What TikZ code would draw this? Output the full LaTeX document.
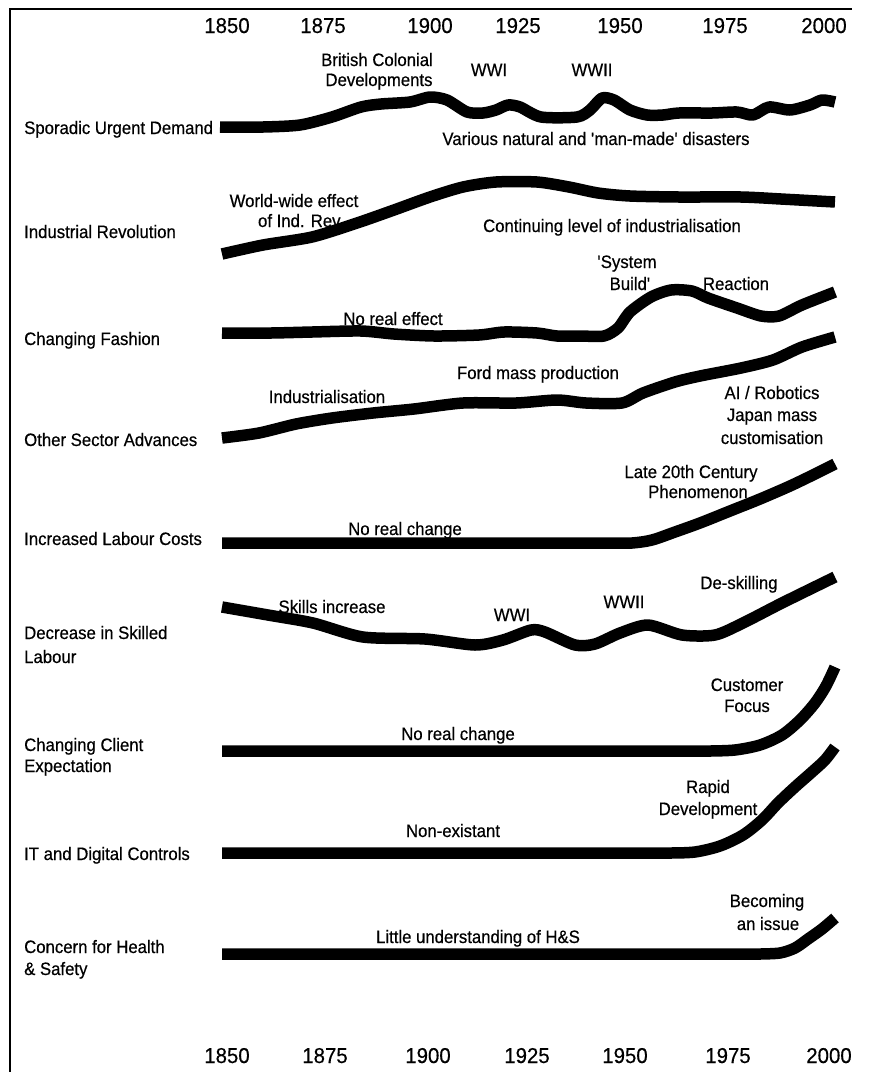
\documentclass[tikz,border=0pt]{standalone}
\usepackage{fontspec}
\setmainfont{Liberation Sans}
\newfontfamily\lblfont{Liberation Sans}[FakeStretch=0.93, FakeBold=0.5]
\newfontfamily\yearfont{Liberation Sans}[FakeStretch=0.95, FakeBold=0.4]
\begin{document}
\begin{tikzpicture}[x=1pt,y=-1pt,
  lbl/.style={font=\lblfont\fontsize{18}{21}\selectfont, inner sep=0pt, anchor=base},
  rowlbl/.style={lbl, anchor=base west},
  yearlbl/.style={font=\yearfont\fontsize{21.5}{25}\selectfont, inner sep=0pt, anchor=base},
  trend/.style={line width=11.5pt, line cap=butt, line join=round},
  frame/.style={line width=1.8pt}]
\useasboundingbox (0,0) rectangle (876,1072);

% frame (left and top edges)
\draw[frame] (10,1072) -- (10,9) -- (852,9);

% year scales
\foreach \yr/\xt/\xb in {1850/227/227, 1875/323/325, 1900/430/428, 1925/518/527, 1950/620/625, 1975/725/728, 2000/824/829} {
  \node[yearlbl] (top\yr) at (\xt,33) {\yr};
  \node[yearlbl] (bot\yr) at (\xb,1063) {\yr};
}

% row titles
\node[rowlbl] (r1) at (24,134) {Sporadic Urgent Demand};
\node[rowlbl] (r2) at (24,238) {Industrial Revolution};
\node[rowlbl] (r3) at (24,345) {Changing Fashion};
\node[rowlbl] (r4) at (24,446) {Other Sector Advances};
\node[rowlbl] (r5) at (24,545) {Increased Labour Costs};
\node[rowlbl] (r6a) at (24,639) {Decrease in Skilled};
\node[rowlbl] (r6b) at (24,663) {Labour};
\node[rowlbl] (r7a) at (24,751) {Changing Client};
\node[rowlbl] (r7b) at (24,772) {Expectation};
\node[rowlbl] (r8) at (24,860) {IT and Digital Controls};
\node[rowlbl] (r9a) at (24,953) {Concern for Health};
\node[rowlbl] (r9b) at (24,975) {\& Safety};

% trend lines
\draw[trend] plot[smooth, tension=0.45] coordinates {(220,127) (263,127) (300,125) (332,117) (361,107) (381,104) (410,102) (430,97) (447,100) (467,112) (483,113) (496,110) (508,105) (520,107) (541,117) (577,117) (590,110) (602,98) (614,100) (630,110) (647,115) (663,115) (679,113) (712,113) (737,112) (753,115) (769,107) (790,110) (810,105) (822,100) (835,102)};
\draw[trend] plot[smooth, tension=0.45] coordinates {(222,254) (263,245) (312,237) (357,223) (394,210) (430,197) (463,187) (496,182) (537,182) (569,187) (598,193) (630,196) (679,197) (741,197) (781,199) (835,202)};
\draw[trend] plot[smooth, tension=0.45] coordinates {(222,333) (271,333) (312,332) (361,331) (394,334) (434,336) (479,335) (504,332) (537,333) (557,336) (580,336) (604,336) (618,328) (630,312) (651,297) (671,290) (692,291) (708,298) (737,308) (761,316) (779,316) (802,305) (835,292)};
\draw[trend] plot[smooth, tension=0.45] coordinates {(222,438) (259,433) (296,424) (332,418) (373,413) (414,409) (463,403) (516,403) (557,400) (586,403) (622,403) (643,393) (675,382) (700,376) (741,368) (773,360) (802,347) (835,337)};
\draw[trend] (222,543) -- plot[smooth, tension=0.5] coordinates {(610,543) (632,543) (652,540) (675,532) (700,523) (730,511) (760,499) (790,486) (815,474) (835,464)};
\draw[trend] plot[smooth, tension=0.45] coordinates {(222,607) (268,615) (313,623) (363,637) (425,639) (475,645) (503,640) (531,630) (545,632) (575,645) (595,644) (620,633) (648,625) (682,635) (715,635) (743,623) (782,603) (835,577)};
\draw[trend] (222,751) -- plot[smooth, tension=0.5] coordinates {(710,751) (735,750) (760,745) (782,735) (800,720) (815,703) (826,686) (835,667)};
\draw[trend] (222,853) -- plot[smooth, tension=0.5] coordinates {(670,853) (695,852) (720,846) (743,835) (762,820) (778,803) (795,787) (812,772) (825,760) (835,747)};
\draw[trend] (222,954) -- plot[smooth, tension=0.5] coordinates {(760,954) (780,953) (795,948) (808,939) (822,929) (835,918)};

% annotations
\node[lbl] (bc1) at (377,66) {British Colonial};
\node[lbl] (bc2) at (379,86) {Developments};
\node[lbl] (ww1a) at (489,76) {WWI};
\node[lbl] (ww2a) at (592,76) {WWII};
\node[lbl] (dis) at (596,145) {Various natural and \textquotesingle man-made\textquotesingle\ disasters};
\node[lbl] (ww1) at (294,207) {World-wide effect};
\node[lbl] (ww2) at (301,227) {of Ind. Rev.};
\node[lbl] (cont) at (612,232) {Continuing level of industrialisation};
\node[lbl] (sb1) at (627,268) {\textquotesingle System};
\node[lbl] (sb2) at (630,290) {Build\textquotesingle};
\node[lbl] (react) at (736,290) {Reaction};
\node[lbl] (nre) at (393,325) {No real effect};
\node[lbl] (ford) at (538,379) {Ford mass production};
\node[lbl] (indus) at (327,403) {Industrialisation};
\node[lbl] (ai1) at (772,399) {AI / Robotics};
\node[lbl] (ai2) at (772,421) {Japan mass};
\node[lbl] (ai3) at (772,444) {customisation};
\node[lbl] (late1) at (691,478) {Late 20th Century};
\node[lbl] (late2) at (698,498) {Phenomenon};
\node[lbl] (nrc1) at (405,535) {No real change};
\node[lbl] (skill) at (332,613) {Skills increase};
\node[lbl] (ww1b) at (512,621) {WWI};
\node[lbl] (ww2b) at (624,608) {WWII};
\node[lbl] (desk) at (739,589) {De-skilling};
\node[lbl] (cf1) at (747,691) {Customer};
\node[lbl] (cf2) at (747,712) {Focus};
\node[lbl] (nrc2) at (458,740) {No real change};
\node[lbl] (rd1) at (708,793) {Rapid};
\node[lbl] (rd2) at (708,815) {Development};
\node[lbl] (nonex) at (453,837) {Non-existant};
\node[lbl] (bi1) at (767,907) {Becoming};
\node[lbl] (bi2) at (768,930) {an issue};
\node[lbl] (hs) at (478,943) {Little understanding of H\&S};
\end{tikzpicture}
\end{document}
